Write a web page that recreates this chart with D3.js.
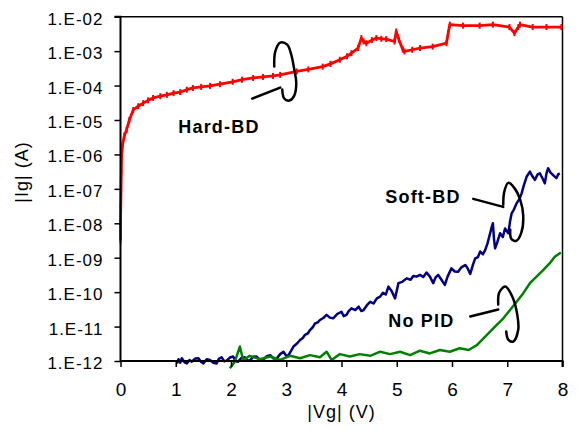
<!DOCTYPE html>
<html><head><meta charset="utf-8">
<script src="https://cdn.jsdelivr.net/npm/d3@7/dist/d3.min.js"></script>
<style>
body{margin:0;background:#fff;}
svg{display:block;font-family:"Liberation Sans",Arial,sans-serif;}
</style></head>
<body><svg id="c" width="577" height="430"></svg>
<script>
// ---- data (|Vg| in V, log10 |Ig| in A) ----
const xTicks = [0,1,2,3,4,5,6,7,8];
const yTickLabels = ["1.E-02","1.E-03","1.E-04","1.E-05","1.E-06","1.E-07","1.E-08","1.E-09","1.E-10","1.E-11","1.E-12"];
const yTickValues = [1e-2,1e-3,1e-4,1e-5,1e-6,1e-7,1e-8,1e-9,1e-10,1e-11,1e-12];

const hardV = [0.00,0.00,0.005,0.01,0.015,0.02,0.04,0.07,0.11,0.16,0.23,0.32,0.41,0.50,0.59,0.72,0.84,0.96,1.08,1.20,1.31,1.46,1.62,1.80,2.03,2.20,2.40,2.58,2.76,2.89,3.19,3.40,3.66,3.80,3.97,4.10,4.18,4.30,4.36,4.40,4.45,4.55,4.63,4.72,4.81,4.96,4.99,5.04,5.11,5.14,5.28,5.42,5.65,5.90,5.93,5.96,6.20,6.50,6.74,7.04,7.13,7.20,7.23,7.46,7.71,7.98];
const hardLogI = [-8.5,-8.0,-7.5,-7.0,-6.5,-6.0,-5.7,-5.45,-5.29,-5.0,-4.71,-4.6,-4.51,-4.43,-4.36,-4.31,-4.27,-4.22,-4.19,-4.12,-4.07,-4.04,-4.01,-3.96,-3.89,-3.83,-3.78,-3.75,-3.72,-3.69,-3.59,-3.53,-3.45,-3.37,-3.25,-3.15,-3.06,-2.91,-2.62,-2.72,-2.77,-2.68,-2.62,-2.64,-2.65,-2.72,-2.43,-2.67,-2.96,-3.01,-2.96,-2.91,-2.87,-2.77,-2.48,-2.23,-2.26,-2.26,-2.23,-2.30,-2.48,-2.30,-2.23,-2.30,-2.30,-2.30];

const softV = [1.02,1.05,1.08,1.11,1.16,1.20,1.25,1.29,1.35,1.41,1.46,1.50,1.56,1.62,1.68,1.74,1.78,1.83,1.88,1.92,1.98,2.04,2.08,2.13,2.19,2.25,2.30,2.34,2.40,2.46,2.52,2.59,2.65,2.71,2.77,2.83,2.89,2.95,3.00,3.04,3.09,3.13,3.19,3.25,3.30,3.34,3.39,3.43,3.48,3.52,3.57,3.61,3.67,3.73,3.79,3.85,3.92,4.00,4.04,4.09,4.13,4.18,4.25,4.31,4.36,4.40,4.46,4.52,4.58,4.64,4.70,4.75,4.80,4.85,4.90,4.97,5.03,5.10,5.18,5.25,5.30,5.36,5.42,5.48,5.54,5.60,5.66,5.70,5.75,5.80,5.87,5.92,5.99,6.05,6.11,6.17,6.24,6.28,6.33,6.38,6.42,6.47,6.51,6.56,6.60,6.64,6.69,6.72,6.74,6.76,6.78,6.82,6.87,6.92,6.96,7.02,7.05,7.08,7.12,7.17,7.22,7.26,7.30,7.35,7.41,7.45,7.50,7.55,7.59,7.64,7.68,7.71,7.74,7.78,7.83,7.89,7.92,7.95];
const softLogI = [-12.07,-11.95,-12.05,-11.92,-12.04,-12.07,-11.97,-12.02,-11.93,-11.92,-12.03,-12.07,-11.95,-11.97,-12.05,-12.07,-11.94,-11.89,-12.01,-11.99,-11.90,-11.87,-12.00,-12.02,-11.91,-11.89,-11.98,-11.99,-11.88,-11.87,-11.96,-11.95,-11.86,-11.83,-11.93,-11.92,-11.80,-11.73,-11.85,-11.83,-11.70,-11.58,-11.50,-11.39,-11.33,-11.24,-11.20,-11.10,-11.02,-10.91,-10.88,-10.81,-10.75,-10.66,-10.74,-10.76,-10.64,-10.57,-10.70,-10.66,-10.55,-10.47,-10.52,-10.42,-10.55,-10.52,-10.38,-10.28,-10.33,-10.18,-10.13,-10.02,-10.07,-9.84,-9.95,-10.18,-9.74,-9.70,-9.60,-9.64,-9.53,-9.55,-9.50,-9.56,-9.43,-9.55,-9.74,-9.58,-9.50,-9.62,-9.79,-9.55,-9.31,-9.40,-9.41,-9.28,-9.21,-9.30,-9.47,-9.20,-9.02,-8.98,-8.82,-8.90,-8.78,-8.60,-8.29,-8.10,-8.00,-8.45,-8.73,-8.55,-8.29,-8.40,-8.15,-8.29,-7.95,-7.71,-7.60,-7.42,-7.30,-7.13,-6.90,-6.65,-6.50,-6.62,-6.74,-6.58,-6.55,-6.70,-6.84,-6.55,-6.40,-6.52,-6.60,-6.69,-6.58,-6.55];

const noPidV = [1.98,2.07,2.16,2.22,2.34,2.52,2.71,2.89,3.07,3.25,3.43,3.61,3.73,3.82,3.97,4.15,4.33,4.52,4.70,4.88,5.06,5.24,5.42,5.60,5.78,5.96,6.14,6.30,6.45,6.57,6.69,6.81,6.93,7.05,7.17,7.29,7.41,7.53,7.65,7.77,7.86,7.97];
const noPidLogI = [-12.21,-12.02,-11.58,-11.97,-11.85,-11.95,-11.87,-11.97,-11.85,-11.92,-11.83,-11.89,-11.73,-11.97,-11.80,-11.87,-11.80,-11.85,-11.73,-11.80,-11.73,-11.83,-11.70,-11.78,-11.68,-11.73,-11.63,-11.68,-11.54,-11.34,-11.15,-10.95,-10.76,-10.52,-10.28,-10.03,-9.74,-9.55,-9.36,-9.16,-8.97,-8.85];

const seriesNames = ["Hard-BD","Soft-BD","No PID"];

// ---- layout ----
const svg = d3.select("#c");
const L = 120.5, R = 562.5, T = 16.7, B = 361;
const x = d3.scaleLinear().domain([0,8]).range([L,R]);
const y = d3.scaleLog().domain([1e-12,1e-2]).range([B,T]);

const toPts = (vs, ls) => vs.map((v,i)=>[v, Math.pow(10, ls[i])]);
const line = d3.line().x(d=>x(d[0])).y(d=>y(d[1]));

// frame (top & right)
svg.append("line").attr("x1",L).attr("x2",R).attr("y1",T).attr("y2",T).attr("stroke","#000").attr("stroke-width",1.5);
svg.append("line").attr("x1",R).attr("x2",R).attr("y1",T).attr("y2",B).attr("stroke","#000").attr("stroke-width",1.5);

// series
const series = [
  {pts: toPts(softV, softLogI), color:"#000080", w:2.5},
  {pts: toPts(noPidV, noPidLogI), color:"#008000", w:2.5},
  {pts: toPts(hardV, hardLogI), color:"#ff0000", w:2.8}
];
series.forEach(s=>{
  svg.append("path").datum(s.pts).attr("d",line).attr("fill","none")
    .attr("stroke",s.color).attr("stroke-width",s.w).attr("stroke-linejoin","round");
});
// red point markers
svg.append("g").selectAll("rect").data(toPts(hardV, hardLogI)).join("rect")
  .attr("x",d=>x(d[0])-1).attr("y",d=>y(d[1])-3).attr("width",2).attr("height",6).attr("fill","#ff0000");

// axes
const yAxis = d3.axisLeft(y).tickValues(yTickValues).tickSize(6).tickFormat((d,i)=>yTickLabels[i]);
const gy = svg.append("g").attr("transform",`translate(${L},0)`).call(yAxis);
gy.select(".domain").attr("stroke","#000").attr("stroke-width",2).attr("d",`M-6,${T}H0V${B}`);
gy.selectAll(".tick line").attr("stroke-width",1.5);
gy.selectAll(".tick text").attr("font-size",17).attr("fill","#000").attr("x",-17).attr("dy","0.62em").attr("y",-3)
  .attr("font-family","Liberation Sans, Arial, sans-serif").style("letter-spacing","1px");

const xAxis = d3.axisBottom(x).tickValues(xTicks).tickSize(6).tickFormat(d3.format("d"));
const gx = svg.append("g").attr("transform",`translate(0,${B})`).call(xAxis);
gx.select(".domain").attr("stroke","#000").attr("stroke-width",2).attr("d",`M${L},0H${R}V6`);
gx.selectAll(".tick line").attr("stroke-width",1.5);
gx.selectAll(".tick text").attr("font-size",19).attr("fill","#000").attr("y",22)
  .attr("font-family","Liberation Sans, Arial, sans-serif");

// axis titles
svg.append("text").attr("x",(L+R)/2).attr("y",418).attr("text-anchor","middle")
  .attr("font-size",18).style("letter-spacing","1px").text("|Vg| (V)");
svg.append("text").attr("transform","translate(28,172) rotate(-90)").attr("text-anchor","middle")
  .attr("font-size",18).style("letter-spacing","1px").text("|Ig| (A)");

// annotations (anchored in data coordinates, shapes as pixel offsets)
const annots = [
  {name:seriesNames[0], ax:3, ai:1e-4, label:[-108,47],
   loop:[[-12,-19],[-11,-34],[-6,-43],[1,-41],[5,-31],[8,-16],[10,-3],[8,10],[3,15],[-2,13],[-4,4]],
   lead:[[-34,13],[-6,2]]},
  {name:seriesNames[1], ax:7, ai:1e-7, label:[-122,14],
   loop:[[-4,16],[-3,3],[1,-6],[7,-1],[13,11],[16,27],[14,44],[9,52],[4,50],[3,41]],
   lead:[[-34,10],[-4,18]]},
  {name:seriesNames[2], ax:7, ai:1e-11, label:[-119,0],
   loop:[[-9,-22],[-8,-34],[-2,-40],[5,-30],[10,-12],[11,3],[6,15],[1,13],[-1,5]],
   lead:[[-37,-10],[-9,-17]]}
];
const cl = d3.line().curve(d3.curveCatmullRom.alpha(0.5));
annots.forEach(a=>{
  const g = svg.append("g").attr("transform",`translate(${x(a.ax)},${y(a.ai)})`);
  g.append("path").attr("d",cl(a.loop)).attr("fill","none").attr("stroke","#000").attr("stroke-width",2.5).attr("stroke-linecap","round");
  g.append("path").attr("d",d3.line()(a.lead)).attr("fill","none").attr("stroke","#000").attr("stroke-width",2.5).attr("stroke-linecap","round");
  g.append("text").attr("x",a.label[0]).attr("y",a.label[1]).attr("font-size",18).attr("font-weight","bold")
    .style("letter-spacing","1.2px").text(a.name);
});
</script></body></html>
